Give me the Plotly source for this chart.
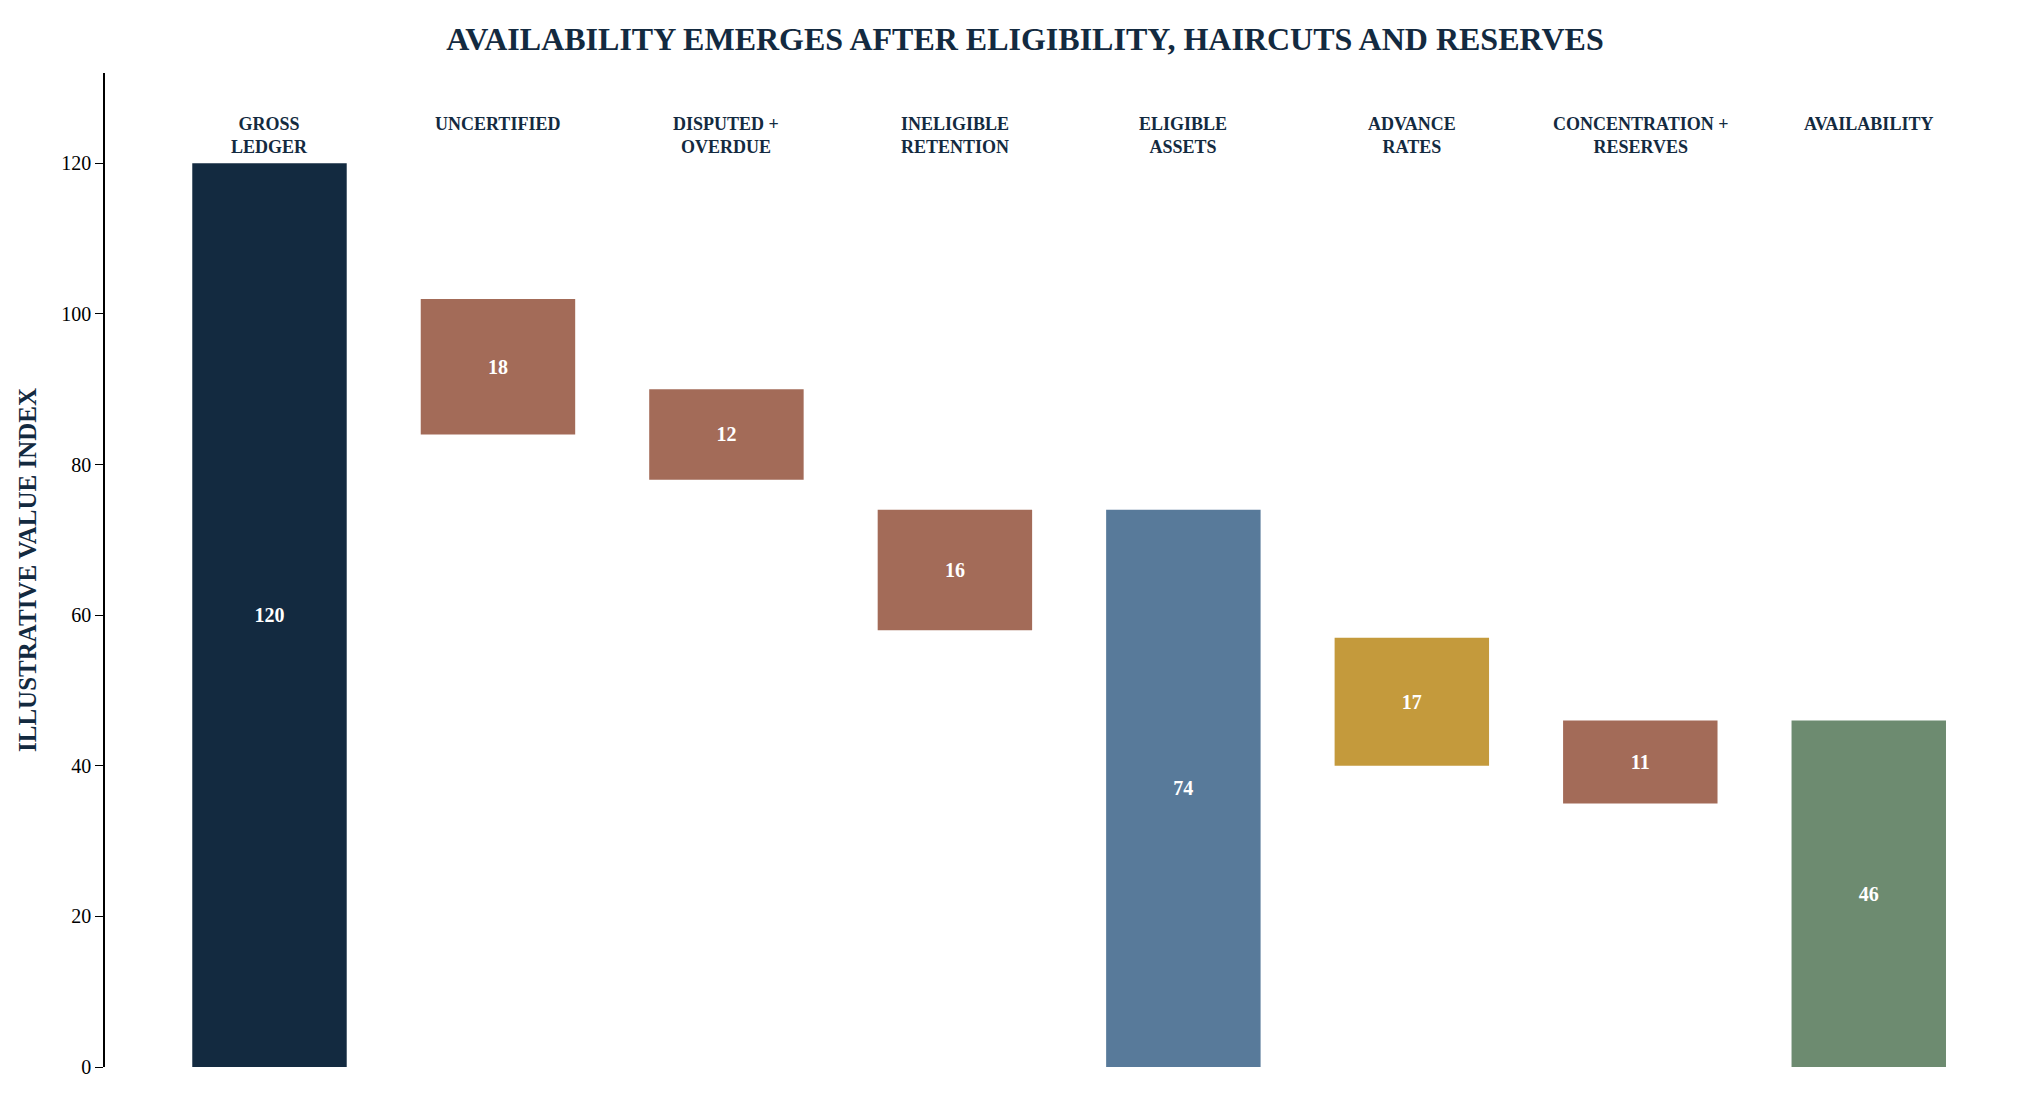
import plotly.graph_objects as go

# Floating bars: each step has its own base and height
categories = ["GROSS<br>LEDGER", "UNCERTIFIED", "DISPUTED +<br>OVERDUE", "INELIGIBLE<br>RETENTION",
              "ELIGIBLE<br>ASSETS", "ADVANCE<br>RATES", "CONCENTRATION +<br>RESERVES", "AVAILABILITY"]
bases = [0, 84, 78, 58, 0, 40, 35, 0]
heights = [120, 18, 12, 16, 74, 17, 11, 46]
colors = ["#132a40", "#a36b58", "#a36b58", "#a36b58", "#587a9a", "#c49a3c", "#a36b58", "#6d8b70"]

serif = "Liberation Serif"
xs = list(range(len(categories)))

fig = go.Figure()
fig.add_trace(go.Bar(
    x=xs, y=heights, base=bases,
    marker_color=colors, marker_line_width=0,
    width=0.676,
    text=["<b>" + str(h) + "</b>" for h in heights],
    textposition="inside", insidetextanchor="middle",
    textfont=dict(family=serif, size=20, color="white"),
    hoverinfo="skip",
))

for x, c in zip(xs, categories):
    fig.add_annotation(x=x, y=126.8, text="<b>" + c + "</b>", showarrow=False,
                       yanchor="top", font=dict(family=serif, size=18, color="#132a40"))

fig.update_layout(
    width=2034, height=1098,
    paper_bgcolor="white", plot_bgcolor="white",
    margin=dict(l=97, r=59, t=65, b=39),
    title=dict(text="<b>AVAILABILITY EMERGES AFTER ELIGIBILITY, HAIRCUTS AND RESERVES</b>",
               x=0.5, xanchor="center", y=0.972, yanchor="middle",
               font=dict(family=serif, size=32, color="#132a40")),
    showlegend=False,
    uniformtext=dict(mode="show", minsize=10),
)
fig.update_xaxes(range=[-0.72, 7.5], showticklabels=False, showgrid=False,
                 zeroline=False, showline=False, ticks="")
fig.update_yaxes(range=[0, 132], tickvals=[0, 20, 40, 60, 80, 100, 120],
                 showgrid=False, zeroline=False, showline=True, linecolor="black",
                 linewidth=1.5, ticks="outside", ticklen=8, tickcolor="black",
                 tickfont=dict(family=serif, size=20, color="black"),
                 title=dict(text="<b>ILLUSTRATIVE VALUE INDEX</b>", standoff=18,
                            font=dict(family=serif, size=25, color="#132a40")))

fig.write_html("out.html")
